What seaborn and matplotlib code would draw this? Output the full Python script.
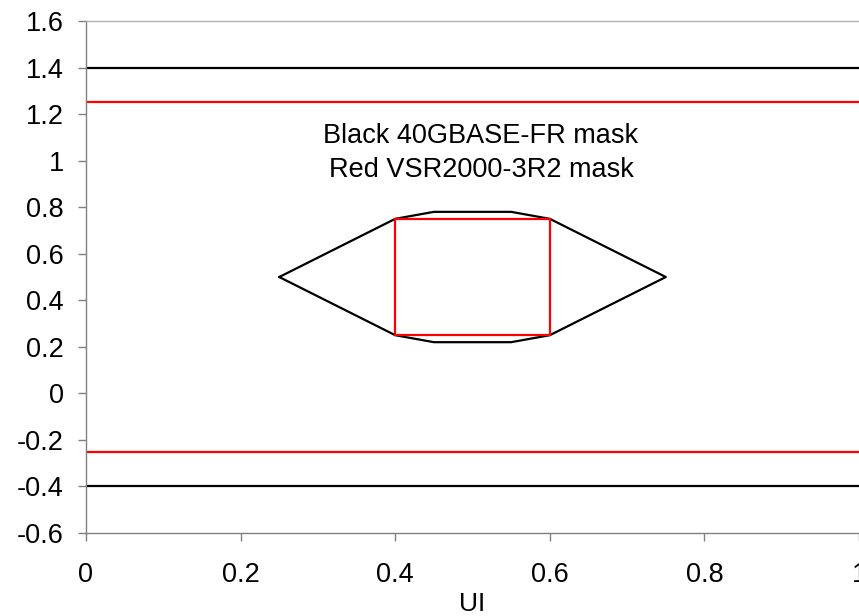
import matplotlib
matplotlib.use("Agg")
import matplotlib.pyplot as plt
import pandas as pd
import seaborn as sns

# 40GBASE-FR eye mask (black)
fr_x = [0.25, 0.40, 0.45, 0.55, 0.60, 0.75, 0.60, 0.55, 0.45, 0.40, 0.25]
fr_y = [0.50, 0.75, 0.78, 0.78, 0.75, 0.50, 0.25, 0.22, 0.22, 0.25, 0.50]
fr_limits = [1.4, -0.4]

# VSR2000-3R2 eye mask (red)
vsr_x = [0.40, 0.60, 0.60, 0.40, 0.40]
vsr_y = [0.75, 0.75, 0.25, 0.25, 0.75]
vsr_limits = [1.25, -0.25]

x_ticks = [0, 0.2, 0.4, 0.6, 0.8, 1]
y_ticks = [-0.6, -0.4, -0.2, 0, 0.2, 0.4, 0.6, 0.8, 1, 1.2, 1.4, 1.6]
note = "Black 40GBASE-FR mask\nRed VSR2000-3R2 mask"

sns.set_style("white")
plt.rcParams['font.family'] = ['Liberation Sans', 'DejaVu Sans']
plt.rcParams['text.color'] = 'black'
plt.rcParams['xtick.labelcolor'] = 'black'
plt.rcParams['ytick.labelcolor'] = 'black'
plt.rcParams['axes.labelcolor'] = 'black'

fig = plt.figure(figsize=(8.59, 6.16), dpi=100)
ax = fig.add_axes([0.1001, 0.1347, 0.9, 0.8312])

rows = []
for i, (x, y) in enumerate(zip(fr_x, fr_y)):
    rows.append({'ui': x, 'v': y, 'shape': 'fr_mask', 'order': i})
for i, (x, y) in enumerate(zip(vsr_x, vsr_y)):
    rows.append({'ui': x, 'v': y, 'shape': 'vsr_mask', 'order': i})
for j, lim in enumerate(fr_limits):
    rows.append({'ui': 0, 'v': lim, 'shape': 'fr_lim%d' % j, 'order': 0})
    rows.append({'ui': 1, 'v': lim, 'shape': 'fr_lim%d' % j, 'order': 1})
for j, lim in enumerate(vsr_limits):
    rows.append({'ui': 0, 'v': lim, 'shape': 'vsr_lim%d' % j, 'order': 0})
    rows.append({'ui': 1, 'v': lim, 'shape': 'vsr_lim%d' % j, 'order': 1})
df = pd.DataFrame(rows)

colors = {s: ('black' if s.startswith('fr') else 'red') for s in df['shape'].unique()}
sns.lineplot(data=df, x='ui', y='v', hue='shape', units='shape', estimator=None,
             sort=False, palette=colors, linewidth=1.6, legend=False, ax=ax)

ax.text(0.511, 1.033, note, ha='center', va='center', fontsize=19.5,
        linespacing=1.4, color='black')

ax.set_xlim(0, 1)
ax.set_ylim(-0.6, 1.6)
ax.set_xticks(x_ticks)
ax.set_xticklabels(['0', '0.2', '0.4', '0.6', '0.8', '1'])
ax.set_yticks(y_ticks)
ax.set_yticklabels(['-0.6', '-0.4', '-0.2', '0', '0.2', '0.4', '0.6', '0.8', '1', '1.2', '1.4', '1.6'])
ax.set_xlabel('UI', fontsize=19, labelpad=3)
ax.set_ylabel('')
ax.tick_params(axis='both', which='major', labelsize=19.5, direction='out',
               length=6, width=1, color='#808080', left=True, bottom=True)
ax.tick_params(axis='x', pad=15)
ax.tick_params(axis='y', pad=10)

for side in ['left', 'bottom']:
    ax.spines[side].set_color('#808080')
    ax.spines[side].set_linewidth(1)
ax.spines['top'].set_color('#b0b0b0')
ax.spines['top'].set_linewidth(1)
ax.spines['right'].set_visible(False)

plt.savefig('out.png', dpi=100)
